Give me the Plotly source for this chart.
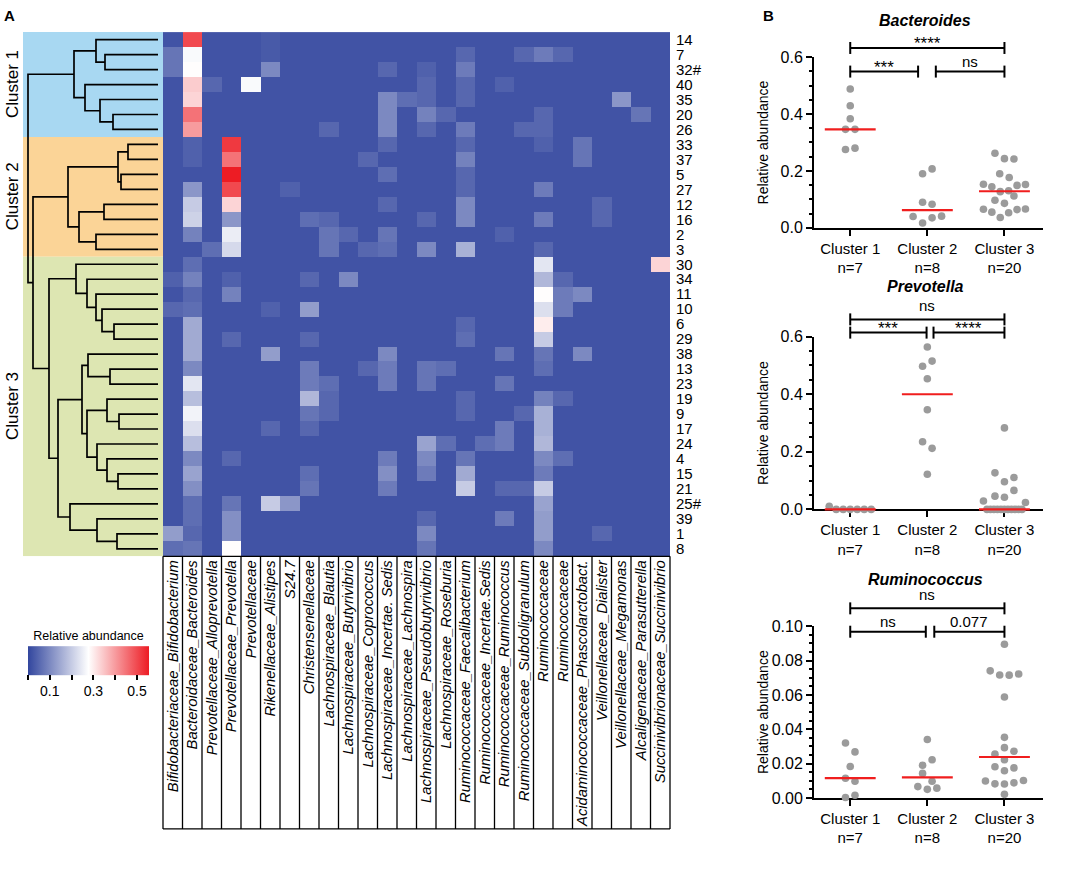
import numpy as np
import plotly.graph_objects as go

W, H = 1084, 873
# vertical correction measured from earlier renders: the photographed page
# is squeezed by 873/889 with an 8 px offset, so positions are pre-compensated
KY, OY = 889 / 873, 8
FONT = "Liberation Sans, Arial, sans-serif"
NARROW = "Liberation Sans Narrow, Arial Narrow, Liberation Sans, sans-serif"

# ---------------- data: panel A ----------------
taxa = ["Bifidobacteriaceae_Bifidobacterium", "Bacteroidaceae_Bacteroides",
        "Prevotellaceae_Alloprevotella", "Prevotellaceae_Prevotella", "Prevotellaceae",
        "Rikenellaceae_Alistipes", "S24.7", "Christensenellaceae", "Lachnospiraceae_Blautia",
        "Lachnospiraceae_Butyrivibrio", "Lachnospiraceae_Coprococcus",
        "Lachnospiraceae_Incertae. Sedis", "Lachnospiraceae_Lachnospira",
        "Lachnospiraceae_Pseudobutyrivibrio", "Lachnospiraceae_Roseburia",
        "Ruminococcaceae_Faecalibacterium", "Ruminococcaceae_Incertae.Sedis",
        "Ruminococcaceae_Ruminococcus", "Ruminococcaceae_Subdoligranulum", "Ruminococcaceae",
        "Ruminococcaceae", "Acidaminococcaceae_Phascolarctobact.", "Veillonellaceae_Dialister",
        "Veillonellaceae_Megamonas", "Alcaligenaceae_Parasutterella",
        "Succinivibrionaceae_Succinivibrio"]

samples = ["14", "7", "32#", "40", "35", "20", "26",
           "33", "37", "5", "27", "12", "16", "2", "3",
           "30", "34", "11", "10", "6", "29", "38", "13", "23", "19", "9", "17", "24",
           "4", "15", "21", "25#", "39", "1", "8"]

cluster_names = ["Cluster 1", "Cluster 2", "Cluster 3"]
cluster_sizes = [7, 8, 20]
cluster_colors = ["#a8d8f2", "#fbd497", "#dde6b2"]

abund = [
    [.02,.50,.02,.02,.02,.03,.02,.02,.02,.02,.02,.02,.02,.02,.02,.02,.02,.02,.02,.02,.02,.02,.02,.02,.02,.02],
    [.07,.27,.02,.02,.02,.03,.02,.02,.02,.02,.02,.02,.02,.02,.02,.05,.02,.02,.05,.08,.05,.02,.02,.02,.02,.02],
    [.07,.28,.02,.02,.02,.10,.02,.02,.02,.02,.02,.05,.02,.04,.02,.08,.02,.02,.02,.02,.02,.02,.02,.02,.02,.02],
    [.02,.34,.05,.02,.27,.02,.02,.02,.02,.02,.02,.02,.02,.05,.02,.05,.02,.04,.02,.02,.02,.02,.02,.02,.02,.02],
    [.02,.33,.02,.02,.02,.02,.02,.02,.02,.02,.02,.10,.06,.05,.02,.05,.02,.02,.02,.02,.02,.02,.02,.12,.02,.02],
    [.02,.45,.02,.02,.02,.02,.02,.02,.02,.02,.02,.10,.02,.09,.05,.02,.02,.02,.02,.05,.02,.02,.02,.02,.07,.02],
    [.02,.40,.02,.02,.02,.02,.02,.02,.05,.02,.02,.10,.02,.05,.02,.08,.02,.02,.05,.05,.02,.02,.02,.02,.02,.02],
    [.02,.04,.02,.52,.02,.02,.02,.02,.02,.02,.02,.05,.02,.02,.02,.05,.02,.02,.02,.04,.02,.07,.02,.02,.02,.02],
    [.02,.04,.02,.45,.02,.02,.02,.02,.02,.02,.05,.02,.02,.02,.02,.09,.02,.02,.02,.02,.02,.07,.02,.02,.02,.02],
    [.02,.02,.02,.56,.02,.02,.02,.02,.02,.02,.02,.06,.02,.02,.02,.05,.02,.02,.02,.02,.02,.02,.02,.02,.02,.02],
    [.02,.12,.02,.50,.02,.02,.04,.02,.02,.02,.02,.02,.02,.02,.02,.05,.02,.02,.02,.08,.02,.02,.02,.02,.02,.02],
    [.02,.20,.02,.33,.02,.02,.02,.02,.02,.02,.02,.05,.02,.02,.02,.10,.02,.02,.02,.02,.02,.02,.05,.02,.02,.02],
    [.02,.21,.02,.12,.02,.02,.02,.06,.05,.02,.02,.02,.02,.05,.02,.10,.02,.02,.02,.08,.02,.02,.05,.02,.02,.02],
    [.02,.09,.02,.25,.02,.02,.02,.02,.07,.05,.02,.07,.02,.02,.02,.02,.02,.04,.02,.02,.02,.02,.02,.02,.02,.02],
    [.02,.02,.06,.22,.02,.02,.02,.02,.07,.02,.05,.06,.02,.10,.02,.16,.02,.02,.02,.05,.02,.02,.02,.02,.02,.02],
    [.02,.06,.02,.02,.02,.02,.02,.02,.02,.02,.02,.02,.02,.02,.02,.02,.02,.02,.02,.24,.02,.02,.02,.02,.02,.33],
    [.04,.09,.02,.04,.02,.02,.02,.05,.02,.10,.02,.02,.02,.02,.02,.02,.02,.02,.02,.17,.05,.02,.02,.02,.02,.02],
    [.02,.05,.02,.09,.02,.02,.02,.02,.02,.02,.02,.02,.02,.02,.02,.02,.02,.02,.02,.28,.08,.10,.02,.02,.02,.02],
    [.05,.06,.02,.02,.02,.04,.02,.13,.02,.02,.02,.02,.02,.02,.02,.02,.02,.02,.02,.23,.08,.02,.02,.02,.02,.02],
    [.02,.15,.02,.02,.02,.02,.02,.02,.02,.02,.02,.02,.02,.02,.02,.05,.02,.02,.02,.30,.02,.02,.02,.02,.02,.02],
    [.02,.15,.02,.05,.02,.02,.02,.05,.02,.02,.02,.02,.02,.02,.02,.06,.02,.02,.02,.20,.02,.02,.02,.02,.02,.02],
    [.02,.15,.02,.02,.02,.13,.02,.02,.02,.02,.02,.10,.02,.02,.02,.02,.02,.07,.02,.07,.02,.10,.02,.02,.02,.02],
    [.02,.10,.02,.02,.02,.02,.02,.08,.02,.02,.05,.08,.02,.07,.06,.02,.02,.02,.02,.06,.02,.02,.02,.02,.02,.02],
    [.02,.24,.02,.02,.02,.02,.02,.08,.06,.02,.02,.08,.02,.07,.02,.02,.02,.07,.02,.02,.02,.02,.02,.02,.02,.02],
    [.02,.18,.02,.02,.02,.02,.02,.17,.05,.02,.02,.02,.02,.02,.02,.05,.02,.02,.02,.09,.05,.02,.02,.02,.02,.02],
    [.02,.26,.02,.02,.02,.02,.02,.07,.05,.02,.02,.02,.02,.02,.02,.05,.02,.02,.05,.16,.02,.02,.02,.02,.02,.02],
    [.02,.23,.02,.02,.02,.05,.02,.05,.02,.02,.02,.02,.02,.02,.02,.02,.02,.08,.02,.16,.02,.02,.02,.02,.02,.02],
    [.02,.18,.02,.02,.02,.02,.02,.02,.02,.02,.02,.02,.02,.14,.06,.02,.06,.08,.02,.17,.02,.02,.02,.02,.02,.02],
    [.02,.10,.02,.05,.02,.02,.02,.02,.02,.02,.02,.08,.02,.10,.02,.07,.02,.02,.02,.10,.06,.02,.02,.02,.02,.02],
    [.02,.14,.02,.02,.02,.02,.02,.06,.02,.02,.02,.11,.02,.08,.02,.15,.02,.02,.02,.08,.02,.02,.02,.02,.02,.02],
    [.02,.11,.02,.02,.02,.02,.02,.07,.02,.02,.02,.08,.02,.02,.02,.20,.02,.05,.05,.20,.02,.02,.02,.02,.02,.02],
    [.02,.06,.02,.07,.02,.20,.12,.02,.02,.02,.02,.02,.02,.02,.02,.02,.02,.02,.02,.14,.02,.02,.02,.02,.02,.02],
    [.02,.06,.02,.11,.02,.02,.02,.02,.02,.02,.02,.02,.02,.05,.02,.02,.02,.08,.02,.13,.02,.02,.02,.02,.02,.02],
    [.13,.05,.02,.11,.02,.02,.02,.02,.02,.02,.02,.02,.02,.10,.02,.02,.02,.02,.02,.13,.02,.02,.05,.02,.02,.02],
    [.06,.07,.02,.28,.02,.02,.02,.02,.02,.02,.02,.02,.02,.07,.02,.02,.02,.02,.02,.10,.02,.02,.02,.02,.02,.02],
]

# dendrogram: nested [left, right, merge height]; ints are row indices
clust1 = [[0, [1, 2, 53], 62], [3, [4, [5, 6, 45], 58], 73], 84]
clust2 = [[[7, 8, 30], [9, 10, 37], 40], [[11, 12, 54], [13, 14, 62], 79], 90]
clust3a = [15, [16, [17, [18, [19, 20, 44], 56], 62], 71], 82]
clust3b1 = [[21, [22, 23, 48], 70],
            [[24, [25, 26, 39], 51], [27, [28, [29, 30, 40], 51], 61], 71], 76]
clust3b2 = [31, [32, [33, 34, 41], 61], 88]
clust3 = [clust3a, [clust3b1, clust3b2, 100], 109]
dendro_tree = [clust1, [clust2, clust3, 125], 130]

cbar_ticks = [0.0, 0.1, 0.2, 0.3, 0.4, 0.5]
cbar_labels = ["", "0.1", "", "0.3", "", "0.5"]

# ---------------- data: panel B ----------------
groups = ["Cluster 1<br>n=7", "Cluster 2<br>n=8", "Cluster 3<br>n=20"]

bacteroides = [
    [0.488, 0.429, 0.383, 0.346, 0.346, 0.275, 0.280],
    [0.190, 0.207, 0.090, 0.083, 0.040, 0.017, 0.035, 0.041],
    [0.262, 0.243, 0.242, 0.190, 0.177, 0.153, 0.144, 0.127, 0.130, 0.149, 0.152,
     0.097, 0.086, 0.112, 0.065, 0.055, 0.036, 0.053, 0.064, 0.066],
]
prevotella = [
    [0.011, 0.0, 0.0, 0.0, 0.0, 0.0, 0.0],
    [0.564, 0.497, 0.515, 0.454, 0.346, 0.235, 0.212, 0.122],
    [0.283, 0.127, 0.096, 0.111, 0.046, 0.042, 0.066, 0.029,
     0.0, 0.0, 0.0, 0.0, 0.0, 0.0, 0.0, 0.0, 0.0, 0.0, 0.0, 0.024],
]
ruminococcus = [
    [0.032, 0.0268, 0.0183, 0.0115, 0.0097, 0.0003, 0.0016],
    [0.034, 0.019, 0.0222, 0.0143, 0.0097, 0.0066, 0.005, 0.0057],
    [0.0895, 0.074, 0.0716, 0.0715, 0.0722, 0.0588, 0.0353, 0.0255, 0.0293, 0.0272,
     0.0182, 0.0222, 0.0175, 0.0158, 0.0099, 0.0082, 0.0081, 0.0088, 0.0102, 0.0021],
]

# brackets: (group a, group b, level in data units, label)
bac_brackets = [(0, 2, 0.632, "****"), (0, 1, 0.549, "***"), (1, 2, 0.549, "ns")]
prev_brackets = [(0, 2, 0.660, "ns"), (0, 1, 0.614, "***"), (1, 2, 0.614, "****")]
rum_brackets = [(0, 2, 0.1104, "ns"), (0, 1, 0.0968, "ns"), (1, 2, 0.0968, "0.077")]

# ---------------- layout geometry (target pixels) ----------------
HM_L, HM_R, HM_T, HM_B = 163, 670, 32, 557
D_L = 23
BOX_B = 830
BX0, BX1 = 814, 1043
BXR = (-0.47, 2.5)
panels = [
    dict(title="Bacteroides", top=57, bottom=228, ymax=0.6, dtick=0.2, minor=0.05,
         fmt=".1f", data=bacteroides, br=bac_brackets, gl=0.12, gr=0.11, ty=20),
    dict(title="Prevotella", top=337, bottom=510, ymax=0.6, dtick=0.2, minor=0.05,
         fmt=".1f", data=prevotella, br=prev_brackets, gl=0.01, gr=0.08, ty=287),
    dict(title="Ruminococcus", top=627, bottom=799, ymax=0.10, dtick=0.02, minor=0.005,
         fmt=".2f", data=ruminococcus, br=rum_brackets, gl=0.02, gr=0.09, ty=580),
]


def fx(p):
    return p / W


def fy(p):
    return 1 - (p * KY - OY) / H


fig = go.Figure()

# ---------- heatmap ----------
colorscale = [[0.0, "rgb(50,70,158)"], [0.5, "rgb(255,255,255)"], [1.0, "rgb(237,28,36)"]]
fig.add_trace(go.Heatmap(
    z=abund, x=list(range(len(taxa))), y=list(range(len(samples))),
    colorscale=colorscale, zmin=0, zmax=0.555, xaxis="x", yaxis="y",
    hoverinfo="skip",
    colorbar=dict(orientation="h", x=fx(88.5), xanchor="center", y=fy(701), yanchor="bottom",
                  len=121, lenmode="pixels", thickness=29, thicknessmode="pixels",
                  xpad=0, ypad=0, outlinewidth=0,
                  title=dict(text="Relative abundance", side="top",
                             font=dict(size=12.5, color="black", family=FONT)),
                  tickmode="array", tickvals=cbar_ticks, ticktext=cbar_labels,
                  ticks="outside", ticklen=5, tickwidth=1.5, tickcolor="black",
                  tickfont=dict(size=14, color="black", family=FONT)),
))

# ---------- dendrogram ----------
seg_x, seg_y = [], []


def walk(node):
    if isinstance(node, int):
        return float(node), 0.0
    left, right, h = node
    yl, hl = walk(left)
    yr, hr = walk(right)
    seg_x.extend([hl, h, h, hr, None])
    seg_y.extend([yl, yl, yr, yr, None])
    return (yl + yr) / 2, h


walk(dendro_tree)
fig.add_trace(go.Scatter(x=seg_x, y=seg_y, mode="lines", xaxis="x2", yaxis="y2",
                         line=dict(color="black", width=1.7), hoverinfo="skip",
                         showlegend=False))

shapes = []
annotations = []

start = 0
for name, size, col in zip(cluster_names, cluster_sizes, cluster_colors):
    shapes.append(dict(type="rect", xref="x2 domain", yref="y2", x0=0, x1=1,
                       y0=start - 0.5, y1=start + size - 0.5, fillcolor=col,
                       line=dict(width=0), layer="below"))
    yc = HM_T + (start + size / 2) / len(samples) * (HM_B - HM_T)
    annotations.append(dict(text=name, x=fx(12.5), y=fy(yc), xref="paper", yref="paper",
                            textangle=-90, showarrow=False, xanchor="center", yanchor="middle",
                            font=dict(size=17, color="black", family=NARROW)))
    start += size

# column label boxes
ncol = len(taxa)
for i in range(ncol + 1):
    shapes.append(dict(type="line", xref="x domain", yref="paper", x0=i / ncol, x1=i / ncol,
                       y0=fy(HM_B), y1=fy(BOX_B), line=dict(color="black", width=1.3)))
for yy in (HM_B, BOX_B):
    shapes.append(dict(type="line", xref="x domain", yref="paper", x0=0, x1=1,
                       y0=fy(yy), y1=fy(yy), line=dict(color="black", width=1.3)))

# ---------- panel B ----------
def bx(xv):
    return BX0 + (xv - BXR[0]) / (BXR[1] - BXR[0]) * (BX1 - BX0)


def by(p, yv):
    return p["bottom"] - yv / p["ymax"] * (p["bottom"] - p["top"])


def swarm(vals, ppu, bin_px=9.5, step_px=9.5, max_w=42.0):
    n = len(vals)
    order = sorted(range(n), key=lambda i: -vals[i])
    bins, cur, s = [], [order[0]], vals[order[0]]
    for i in order[1:]:
        if (s - vals[i]) * ppu < bin_px:
            cur.append(i)
        else:
            bins.append(cur)
            cur, s = [i], vals[i]
    bins.append(cur)
    off = [0.0] * n
    for b in bins:
        b = sorted(b)
        m = len(b)
        sp = step_px if m == 1 else min(step_px, max_w / (m - 1))
        for k, i in enumerate(b):
            off[i] = (k - (m - 1) / 2) * sp
    return off


px_per_unit_x = (BX1 - BX0) / (BXR[1] - BXR[0])
layout_axes = {}
for k, p in enumerate(panels):
    ax = k + 3
    xa, ya = f"x{ax}", f"y{ax}"
    ppu = (p["bottom"] - p["top"]) / p["ymax"]
    for g, vals in enumerate(p["data"]):
        off = swarm(vals, ppu)
        fig.add_trace(go.Scatter(x=[g + o / px_per_unit_x for o in off], y=vals,
                                 mode="markers", xaxis=xa, yaxis=ya, cliponaxis=False,
                                 marker=dict(size=7.6, color="#9b9b9b", line=dict(width=0)),
                                 hoverinfo="skip", showlegend=False))
        med = float(np.median(vals))
        shapes.append(dict(type="line", xref="paper", yref="paper",
                           x0=fx(bx(g - 0.33)), x1=fx(bx(g + 0.33)),
                           y0=fy(by(p, med)), y1=fy(by(p, med)),
                           line=dict(color="rgb(240,30,30)", width=2.2), layer="above"))
    for (a, b, lev, lab) in p["br"]:
        x0 = a + (p["gr"] if (a == 1 and b == 2) else 0)
        x1 = b - (p["gl"] if (a == 0 and b == 1) else 0)
        yp = by(p, lev)
        shapes.append(dict(type="line", xref="paper", yref="paper", x0=fx(bx(x0)), x1=fx(bx(x1)),
                           y0=fy(yp), y1=fy(yp), line=dict(color="black", width=2)))
        for xe in (x0, x1):
            shapes.append(dict(type="line", xref="paper", yref="paper", x0=fx(bx(xe)), x1=fx(bx(xe)),
                               y0=fy(yp - 6), y1=fy(yp + 6), line=dict(color="black", width=2)))
        star = lab.startswith("*")
        shift = -7 if star else (3 if (a == 0 and b == 2) else 0)
        annotations.append(dict(text=lab, x=fx(bx((x0 + x1) / 2)), y=fy(yp), xref="paper",
                                yref="paper", showarrow=False, xanchor="center", yanchor="bottom",
                                yshift=shift,
                                font=dict(size=17 if star else 15, color="black", family=FONT)))
    annotations.append(dict(text=f"<b><i>{p['title']}</i></b>", x=fx(925), y=fy(p["ty"]),
                            xref="paper", yref="paper", showarrow=False, xanchor="center",
                            yanchor="middle", font=dict(size=16, color="black", family=FONT)))
    annotations.append(dict(text="Relative abundance", x=fx(763),
                            y=fy((p["top"] + p["bottom"]) / 2), xref="paper", yref="paper",
                            showarrow=False, textangle=-90, xanchor="center", yanchor="middle",
                            font=dict(size=14, color="black", family=FONT)))
    layout_axes[f"xaxis{ax}"] = dict(
        domain=[fx(BX0), fx(BX1)], range=list(BXR), anchor=ya, tickmode="array",
        tickvals=[0, 1, 2], ticktext=groups, ticks="outside", ticklen=6, tickwidth=2,
        tickcolor="black", showline=True, linecolor="black", linewidth=2, showgrid=False,
        zeroline=False, tickfont=dict(size=15, color="black", family=FONT), layer="below traces")
    layout_axes[f"yaxis{ax}"] = dict(
        domain=[fy(p["bottom"]), fy(p["top"])], range=[0, p["ymax"]], anchor=xa,
        tickmode="linear", tick0=0, dtick=p["dtick"], tickformat=p["fmt"], ticks="outside",
        ticklen=6, tickwidth=2, tickcolor="black", showline=True, linecolor="black",
        linewidth=2, showgrid=False, zeroline=False, layer="below traces",
        tickfont=dict(size=16, color="black", family=FONT),
        minor=dict(dtick=p["minor"], tick0=0, ticks="outside", ticklen=3.5, tickwidth=1.5,
                   tickcolor="black", showgrid=False))

annotations.append(dict(text="<b>A</b>", x=fx(9), y=fy(15), xref="paper", yref="paper",
                        showarrow=False, xanchor="center", yanchor="middle",
                        font=dict(size=15, color="black", family=FONT)))
annotations.append(dict(text="<b>B</b>", x=fx(768), y=fy(15), xref="paper", yref="paper",
                        showarrow=False, xanchor="center", yanchor="middle",
                        font=dict(size=15, color="black", family=FONT)))

fig.update_layout(
    width=W, height=H, margin=dict(l=0, r=0, t=0, b=0), paper_bgcolor="white",
    plot_bgcolor="white", showlegend=False, font=dict(family=FONT, color="black"),
    xaxis=dict(domain=[fx(HM_L), fx(HM_R)], range=[-0.5, ncol - 0.5], anchor="y",
               tickmode="array", tickvals=list(range(ncol)), ticktext=taxa, tickangle=-90,
               ticks="", showgrid=False, zeroline=False, showline=False,
               tickfont=dict(size=14.8, style="italic", color="black", family=FONT)),
    yaxis=dict(domain=[fy(HM_B), fy(HM_T)], range=[len(samples) - 0.5, -0.5], anchor="x",
               side="right", tickmode="array", tickvals=list(range(len(samples))),
               ticktext=samples, ticks="", showgrid=False, zeroline=False, showline=False,
               ticklabelstandoff=5, tickfont=dict(size=15, color="black", family=NARROW)),
    xaxis2=dict(domain=[fx(D_L), fx(HM_L)], range=[135, -5], anchor="y2", visible=False),
    yaxis2=dict(domain=[fy(HM_B), fy(HM_T)], range=[len(samples) - 0.5, -0.5], anchor="x2",
                visible=False),
    shapes=shapes, annotations=annotations, **layout_axes,
)

fig.write_html("out.html", config={"displayModeBar": False},
               post_script="document.body.style.margin='0px';")
